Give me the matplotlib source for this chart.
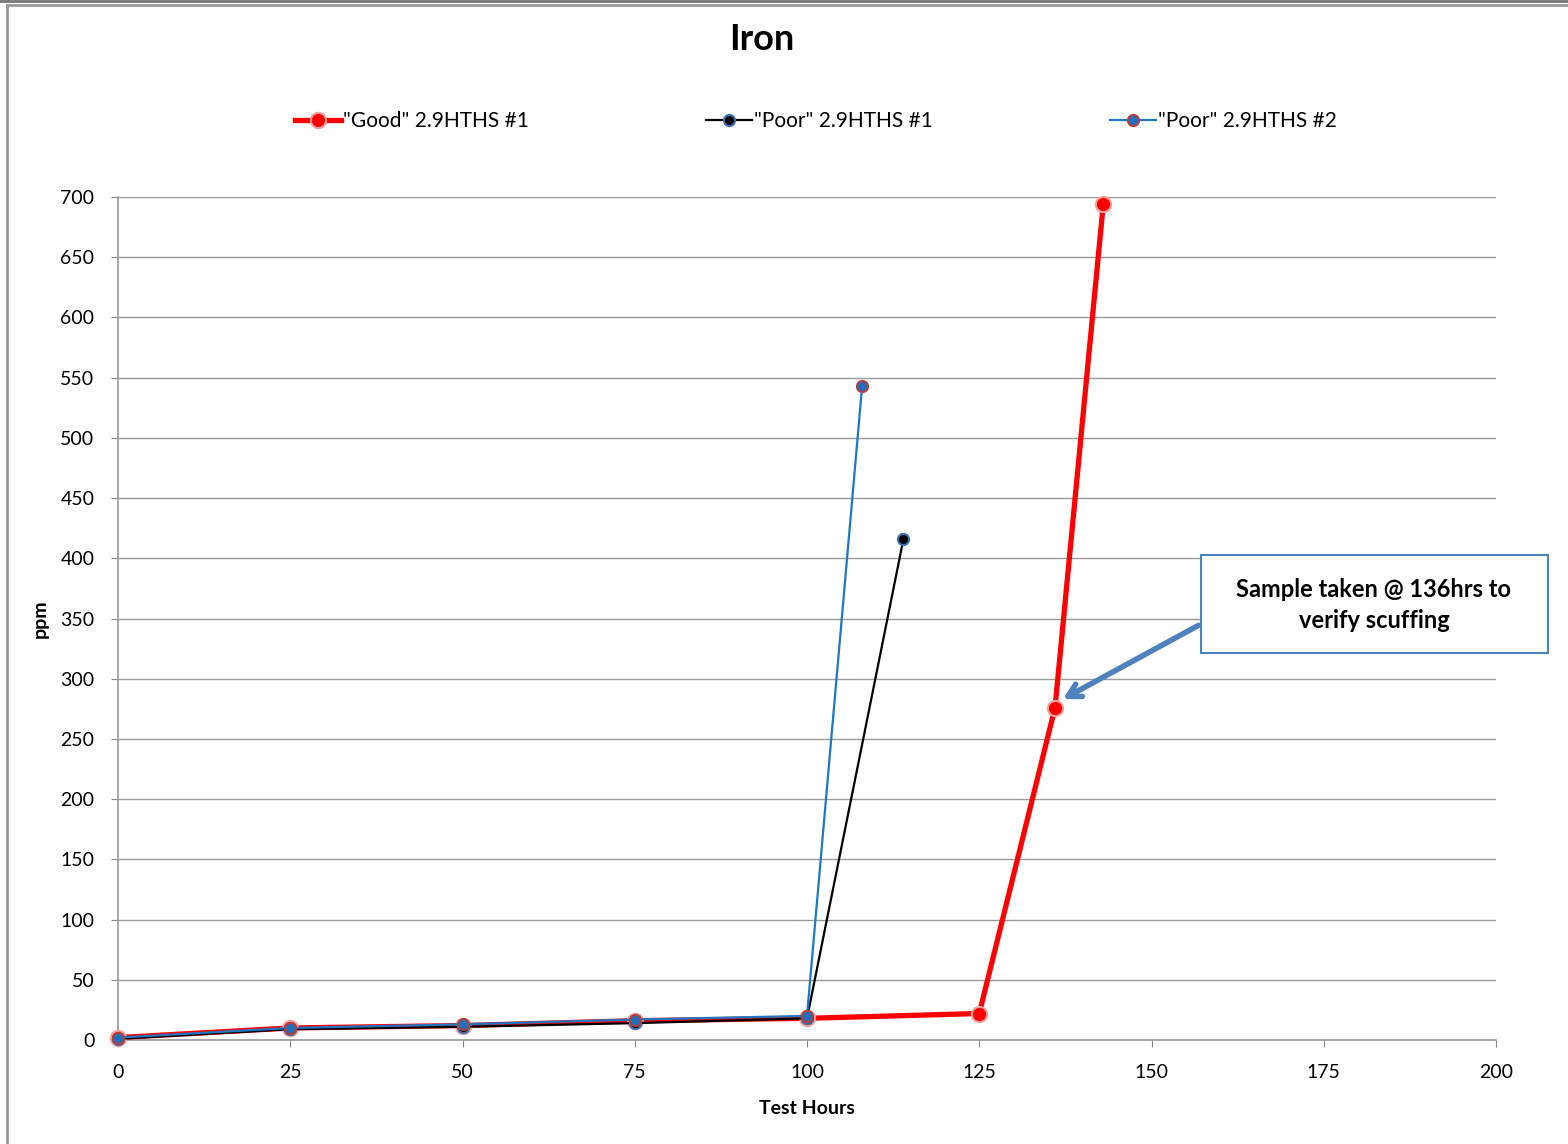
import matplotlib
matplotlib.use("Agg")
import matplotlib.pyplot as plt
from matplotlib.lines import Line2D
from matplotlib.patches import Rectangle

plt.rcParams['font.family'] = ['Lato', 'DejaVu Sans']

# Data
good_x = [0, 25, 50, 75, 100, 125, 136, 143]
good_y = [2, 10, 12, 16, 18, 22, 276, 694]
poor1_x = [0, 25, 50, 75, 100, 114]
poor1_y = [1, 9, 11, 14, 18, 416]
poor2_x = [0, 25, 50, 75, 100, 108]
poor2_y = [2, 10, 13, 17, 20, 543]
labels = ['"Good" 2.9HTHS #1', '"Poor" 2.9HTHS #1', '"Poor" 2.9HTHS #2']
x_ticks = [0, 25, 50, 75, 100, 125, 150, 175, 200]
y_ticks = list(range(0, 701, 50))

W, H = 1568, 1144
fig = plt.figure(figsize=(W/100, H/100), dpi=100)
ax = fig.add_axes([118/W, 1-1040/H, (1496-118)/W, (1040-197)/H])

ax.plot(good_x, good_y, color='#FF0000', lw=3.8, marker='o', ms=11,
        mfc='#FF0000', mec='#F2A0A0', mew=1.5, zorder=3, label=labels[0], clip_on=False)
ax.plot(poor1_x, poor1_y, color='#000000', lw=1.6, marker='o', ms=8,
        mfc='#000000', mec='#3A6FB0', mew=1.5, zorder=4, label=labels[1], clip_on=False)
ax.plot(poor2_x, poor2_y, color='#1F77C4', lw=1.6, marker='o', ms=8,
        mfc='#1F6FBF', mec='#B04040', mew=1.5, zorder=5, label=labels[2], clip_on=False)

ax.set_xlim(0, 200)
ax.set_ylim(0, 700)
ax.set_xticks(x_ticks)
ax.set_yticks(y_ticks)
ax.tick_params(axis='both', labelsize=14, colors='#888888', labelcolor='black', length=5)
ax.tick_params(axis='x', pad=12)
ax.tick_params(axis='y', pad=12)
ax.yaxis.grid(True, color='#999999', lw=1)
ax.set_axisbelow(True)
for s in ['top', 'right']:
    ax.spines[s].set_visible(False)
for s in ['left', 'bottom']:
    ax.spines[s].set_color('#999999')
    ax.spines[s].set_linewidth(1.2)

ax.set_xlabel('Test Hours', fontsize=14, fontweight='bold', labelpad=14)
ax.set_ylabel('ppm', fontsize=14, fontweight='bold', labelpad=8)

fig.text(762/W, 1-39/H, 'Iron', fontsize=26, fontweight='bold', ha='center', va='center')

leg = fig.legend(loc='center', bbox_to_anchor=(816/W, 1-121/H), ncol=3, frameon=False,
                 fontsize=15, columnspacing=8.5, handlelength=2.2, handletextpad=0.1)

# annotation box
fig.add_artist(Rectangle((1201/W, 1-653/H), (1548-1201)/W, (653-555)/H,
                         transform=fig.transFigure, fc='white', ec='#4F81BD', lw=1.5, zorder=7))
fig.text(1374/W, 1-605/H, 'Sample taken @ 136hrs to\nverify scuffing', fontsize=17,
         fontweight='bold', ha='center', va='center', linespacing=1.45, zorder=8)
ax.annotate('', xy=(136.8, 282), xytext=(1201/W, 1-624/H), textcoords='figure fraction',
            arrowprops=dict(arrowstyle='->,head_length=0.9,head_width=0.5', color='#4F81BD', lw=4),
            zorder=6)

# figure frame
fig.add_artist(Line2D([0, 1], [1-1/H, 1-1/H], color='#777777', lw=2))
fig.add_artist(Line2D([7/W, 1], [1-5/H, 1-5/H], color='#999999', lw=2))
fig.add_artist(Line2D([7/W, 7/W], [0, 1-5/H], color='#999999', lw=2))

fig.savefig('out.png', dpi=100)
